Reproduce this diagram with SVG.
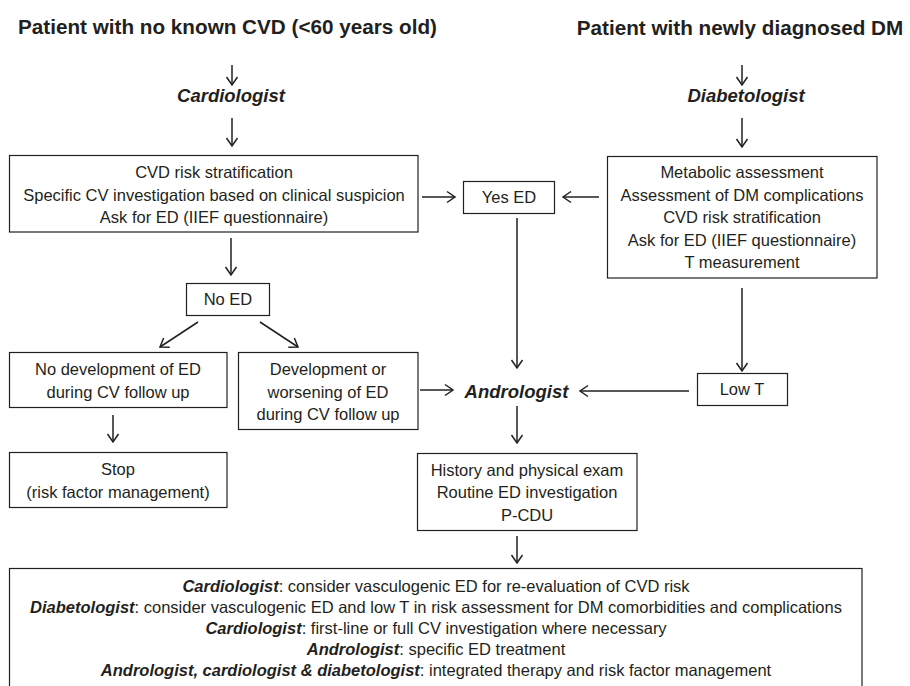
<svg xmlns="http://www.w3.org/2000/svg" width="910" height="686" viewBox="0 0 910 686">
<style>
text{font-family:"Liberation Sans",Arial,sans-serif;fill:#231f20;text-anchor:middle}
.t{font-size:20.7px;font-weight:bold}
.sp{font-size:18.5px;font-weight:bold;font-style:italic}
.b{font-size:16.5px}
.bi{font-weight:bold;font-style:italic}
rect{fill:#fff;stroke:#231f20;stroke-width:1.2}
.c line{stroke:#231f20;stroke-width:1.5;marker-end:url(#ah)}
</style>
<defs>
<marker id="ah" viewBox="-10 -7 12 14" refX="0" refY="0" markerWidth="12" markerHeight="14" markerUnits="userSpaceOnUse" orient="auto">
<path d="M-8,-5.5 L0,0 L-8,5.5" fill="none" stroke="#231f20" stroke-width="1.5"/>
</marker>
</defs>
<rect x="0" y="0" width="910" height="686" style="stroke:none;fill:#fff"/>

<g id="title-cvd"><text class="t" x="227.5" y="34">Patient with no known CVD (&lt;60 years old)</text></g>
<g id="title-dm"><text class="t" x="740" y="35">Patient with newly diagnosed DM</text></g>
<g id="cardiologist"><text class="sp" x="231" y="102">Cardiologist</text></g>
<g id="diabetologist"><text class="sp" x="746" y="102">Diabetologist</text></g>

<g id="cvd-box">
<rect x="9.5" y="155.5" width="408.5" height="76.5"/>
<text class="b" x="214" y="178">CVD risk stratification</text>
<text class="b" x="214" y="200.5">Specific CV investigation based on clinical suspicion</text>
<text class="b" x="214" y="223">Ask for ED (IIEF questionnaire)</text>
</g>
<g id="metabolic-box">
<rect x="607.5" y="156.5" width="269.5" height="121.5"/>
<text class="b" x="742" y="178">Metabolic assessment</text>
<text class="b" x="742" y="200.5">Assessment of DM complications</text>
<text class="b" x="742" y="223">CVD risk stratification</text>
<text class="b" x="742" y="245.5">Ask for ED (IIEF questionnaire)</text>
<text class="b" x="742" y="268">T measurement</text>
</g>
<g id="yes-ed">
<rect x="463.5" y="181.5" width="91" height="32"/>
<text class="b" x="509" y="203">Yes ED</text>
</g>
<g id="no-ed">
<rect x="186.5" y="283.5" width="83" height="32"/>
<text class="b" x="228" y="305">No ED</text>
</g>
<g id="no-development">
<rect x="9.5" y="352.5" width="217.5" height="55"/>
<text class="b" x="118" y="375">No development of ED</text>
<text class="b" x="118" y="397.5">during CV follow up</text>
</g>
<g id="development">
<rect x="238.5" y="352.5" width="179.5" height="77"/>
<text class="b" x="328" y="375">Development or</text>
<text class="b" x="328" y="397.5">worsening of ED</text>
<text class="b" x="328" y="420">during CV follow up</text>
</g>
<g id="andrologist"><text class="sp" x="516.5" y="398">Andrologist</text></g>
<g id="low-t">
<rect x="697.5" y="373.5" width="90" height="32"/>
<text class="b" x="742" y="395">Low T</text>
</g>
<g id="stop">
<rect x="9.5" y="452.5" width="217.5" height="55"/>
<text class="b" x="118" y="475">Stop</text>
<text class="b" x="118" y="497.5">(risk factor management)</text>
</g>
<g id="history">
<rect x="417.5" y="453.5" width="219.5" height="77"/>
<text class="b" x="527" y="475.5">History and physical exam</text>
<text class="b" x="527" y="498">Routine ED investigation</text>
<text class="b" x="527" y="520.5">P-CDU</text>
</g>
<g id="summary">
<rect x="9.5" y="568.5" width="852.5" height="140"/>
<text class="b" x="436" y="592"><tspan class="bi">Cardiologist</tspan>: consider vasculogenic ED for re-evaluation of CVD risk</text>
<text class="b" x="436" y="613"><tspan class="bi">Diabetologist</tspan>: consider vasculogenic ED and low T in risk assessment for DM comorbidities and complications</text>
<text class="b" x="436" y="634"><tspan class="bi">Cardiologist</tspan>: first-line or full CV investigation where necessary</text>
<text class="b" x="436" y="655"><tspan class="bi">Andrologist</tspan>: specific ED treatment</text>
<text class="b" x="436" y="676"><tspan class="bi">Andrologist, cardiologist &amp; diabetologist</tspan>: integrated therapy and risk factor management</text>
</g>

<g id="connectors" class="c">
<line x1="232" y1="65" x2="232" y2="85"/>
<line x1="232" y1="118" x2="232" y2="146"/>
<line x1="742" y1="65" x2="742" y2="85"/>
<line x1="742" y1="118" x2="742" y2="147"/>
<line x1="422" y1="197" x2="455" y2="197"/>
<line x1="599" y1="197" x2="563" y2="197"/>
<line x1="231" y1="238" x2="231" y2="275"/>
<line x1="198" y1="322" x2="160" y2="347"/>
<line x1="260" y1="322" x2="298" y2="347"/>
<line x1="517" y1="218" x2="517" y2="368"/>
<line x1="742" y1="288" x2="742" y2="371"/>
<line x1="689" y1="391" x2="580" y2="391"/>
<line x1="420" y1="390" x2="453" y2="390"/>
<line x1="113" y1="415" x2="113" y2="442"/>
<line x1="517" y1="406" x2="517" y2="443"/>
<line x1="517" y1="536" x2="517" y2="563"/>
</g>
</svg>
